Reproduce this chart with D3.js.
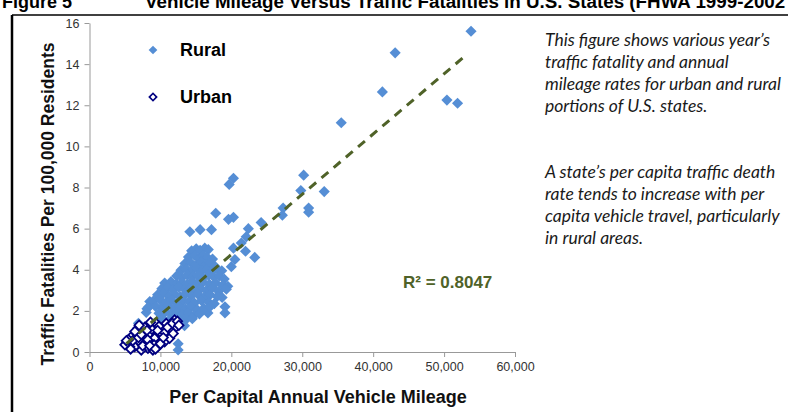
<!DOCTYPE html>
<html>
<head>
<meta charset="utf-8">
<script src="https://cdn.jsdelivr.net/npm/d3@7"></script>
<style>
  body { margin: 0; background: #fff; }
  svg { display: block; font-family: "Liberation Sans", Arial, sans-serif; }
  .note { font-family: Lato, "Open Sans", sans-serif; font-style: italic; font-size: 17.5px; fill: #1a1a1a; }
</style>
</head>
<body>
<svg id="chart" width="788" height="412"></svg>
<script>
// rural [miles per capita, deaths per 100k]
const ruralData = [
  [53800,15.6],[43100,14.55],[41300,12.65],[50400,12.25],[51900,12.1],[35500,11.15],
  [30200,8.6],[29800,7.85],[33100,7.8],[30900,7.0],[30900,6.8],[27300,7.0],[27200,6.65],
  [24200,6.3],[20300,8.45],[19700,8.15],[20300,6.55],[17800,6.75],[19600,6.45],
  [15600,5.95],[17200,5.95],[22400,6.0],[22100,5.6],[21400,5.3],[22000,4.9],[23300,4.6],
  [20300,5.05],[20500,4.5],[20000,4.15],[19100,2.2],[19100,1.9],[16700,1.9],
  [8500,2.45],[8100,2.1],[12500,0.4],[12500,0.1],[6900,1.4],[14150,5.85],
  [14400,4.92],[15050,5.02],[15600,4.95],[16250,5.05],[16750,4.98],
  [13950,4.62],[14800,4.70],[15400,4.55],[16050,4.68],[16600,4.60],[17350,4.52],
  [13450,4.30],[14250,4.35],[15000,4.22],[15700,4.38],[16350,4.25],[17000,4.32],[17650,4.18],
  [12900,3.98],[13600,4.05],[14350,3.92],[15100,4.08],[15850,3.95],[16500,4.02],[17250,3.90],[18100,4.00],[18650,3.95],
  [12300,3.70],[13050,3.62],[13800,3.75],[14550,3.68],[15300,3.72],[16000,3.60],[16750,3.74],[17500,3.66],[18300,3.70],[19000,3.55],
  [10600,3.35],[11500,3.42],[12250,3.30],[13000,3.38],[13700,3.28],[14450,3.45],[15200,3.33],[16000,3.40],[16900,3.30],[17800,3.36],[18800,3.25],[19500,3.20],
  [10200,3.08],[11000,3.12],[11800,3.02],[12600,3.15],[13400,3.05],[14100,3.10],[14900,2.98],[15700,3.08],[16500,3.00],[17300,3.12],[18200,2.95],[19300,3.05],
  [9600,2.78],[10400,2.85],[11200,2.72],[12000,2.82],[12800,2.70],[13600,2.85],[14400,2.75],[15300,2.80],[16200,2.68],[17000,2.78],[18000,2.70],[18700,2.65],
  [9000,2.48],[9900,2.55],[10800,2.42],[11600,2.52],[12400,2.40],[13200,2.50],[14000,2.45],[14800,2.38],[15800,2.50],[16800,2.42],[17600,2.35],
  [8300,2.18],[9300,2.22],[10200,2.15],[11000,2.25],[11900,2.12],[12700,2.20],[13500,2.10],[14300,2.18],[15200,2.05],[16100,2.12],[17000,2.20],
  [8000,1.92],[9800,1.88],[10700,1.95],[11500,1.85],[12300,1.92],[13000,1.80],[13900,1.88],[14700,1.78],[15500,1.85],
  [10300,1.62],[11200,1.55],[12100,1.65],[12800,1.52],[13600,1.58],[14500,1.62],
  [11000,1.30],[11700,1.25],[12600,1.35],[13400,1.28]
];

const urbanData = [
  [5300,0.45],[5900,0.74],[6600,0.91],[7070,0.50],[7530,1.07],[8000,0.74],[8480,1.31],[8700,0.50],
  [9400,1.39],[9400,0.91],[9890,0.58],[10350,1.15],[10820,1.39],[11060,0.83],[11520,1.07],[12000,1.56],
  [12230,1.23],[8240,0.18],[8940,0.10],[7300,0.10],[6370,0.26],[5660,0.26],[9650,0.26],[10590,0.50],
  [11300,0.67],[7780,0.42],[6830,1.15],[8480,0.91],[9180,0.67],[10110,0.91],
  [6100,0.55],[6900,0.70],[7300,0.85],[7800,1.20],[8200,0.60],[8800,1.10],[9100,0.35],[9800,1.25],
  [10000,0.40],[10600,0.95],[11000,1.20],[11700,1.40],[12400,1.50],[5500,0.60],[6400,1.00],[7000,1.30],
  [8600,1.45],[9600,1.05],[10400,0.70],[11800,0.90],[5800,0.15],[7500,0.30],[8500,0.30],[9300,0.15],
  [12600,1.30],[8100,1.05],[5000,0.35],[5200,0.55]
];

// linear fit shown in the figure
const trendRange = [5200, 53000];
const trendSlope = 0.000293;
const trendIntercept = -1.12;
const rSquared = "0.8047";

const xTicks = [0, 10000, 20000, 30000, 40000, 50000, 60000];
const yTicks = [0, 2, 4, 6, 8, 10, 12, 14, 16];

const noteLines1 = ["This figure shows various year\u2019s", "traffic fatality and annual",
  "mileage rates for urban and rural", "portions of U.S. states."];
const noteLines2 = ["A state\u2019s per capita traffic death", "rate tends to increase with per",
  "capita vehicle travel, particularly", "in rural areas."];

const svg = d3.select('#chart')

// page title, cut off at the top like the scan
svg.append('text').attr('x', 2).attr('y', 8)
  .style('font-weight', 'bold').style('font-size', '18px').text('Figure 5')
svg.append('text').attr('x', 145).attr('y', 8)
  .style('font-weight', 'bold').style('font-size', '18.8px')
  .text('Vehicle Mileage Versus Traffic Fatalities in U.S. States (FHWA 1999-2002')

// frame
svg.append('line').attr('x1', 12).attr('x2', 788).attr('y1', 15).attr('y2', 15)
  .attr('stroke', '#000').attr('stroke-width', 1.5)
svg.append('line').attr('x1', 12).attr('x2', 12).attr('y1', 15).attr('y2', 412)
  .attr('stroke', '#000').attr('stroke-width', 2.5)

const x = d3.scaleLinear().domain([0, 60000]).range([89.5, 515]);
const y = d3.scaleLinear().domain([0, 16]).range([352, 23]);

const xAxis = svg.append('g').attr('transform', 'translate(0,352)')
  .call(d3.axisBottom(x).tickValues(xTicks).tickFormat(d3.format(',')).tickSize(5).tickSizeOuter(0).tickPadding(5))
const yAxis = svg.append('g').attr('transform', 'translate(89.5,0)')
  .call(d3.axisLeft(y).tickValues(yTicks).tickSize(5).tickSizeOuter(0).tickPadding(5))

;[xAxis, yAxis].forEach(function (g) {
  g.select('.domain').attr('stroke', '#999')
  g.selectAll('.tick line').attr('stroke', '#999')
  g.selectAll('.tick text').attr('fill', '#333').style('font-size', '12.5px')
    .style('font-family', '"Liberation Sans", Arial, sans-serif')
})

svg.append('text').attr('x', 318).attr('y', 403).attr('text-anchor', 'middle')
  .style('font-weight', 'bold').style('font-size', '18px').attr('fill', '#111')
  .text('Per Capital Annual Vehicle Mileage')
svg.append('text').attr('transform', 'translate(54,204) rotate(-90)').attr('text-anchor', 'middle')
  .style('font-weight', 'bold').style('font-size', '17.5px').attr('fill', '#111')
  .text('Traffic Fatalities Per 100,000 Residents')

const diamond = d3.symbol().type(d3.symbolSquare)

svg.append('g').selectAll('path').data(ruralData).enter().append('path')
  .attr('d', diamond.size(62)())
  .attr('transform', function (d) { return 'translate(' + x(d[0]) + ',' + y(d[1]) + ') rotate(45)'; })
  .attr('fill', '#558ed5')

svg.append('g').selectAll('path').data(urbanData).enter().append('path')
  .attr('d', diamond.size(44)())
  .attr('transform', function (d) { return 'translate(' + x(d[0]) + ',' + y(d[1]) + ') rotate(45)'; })
  .attr('fill', '#fff').attr('stroke', '#000080').attr('stroke-width', 1.8)

svg.append('line')
  .attr('x1', x(trendRange[0])).attr('y1', y(trendSlope * trendRange[0] + trendIntercept))
  .attr('x2', x(trendRange[1])).attr('y2', y(trendSlope * trendRange[1] + trendIntercept))
  .attr('stroke', '#4f6228').attr('stroke-width', 3).attr('stroke-dasharray', '9,7')

svg.append('text').attr('x', 403).attr('y', 288)
  .style('font-weight', 'bold').style('font-size', '17px').attr('fill', '#4f6228')
  .text('R\u00b2 = ' + rSquared)

// legend
svg.append('path').attr('d', diamond.size(38)()).attr('transform', 'translate(153,50) rotate(45)')
  .attr('fill', '#558ed5')
svg.append('path').attr('d', diamond.size(26)()).attr('transform', 'translate(153,97) rotate(45)')
  .attr('fill', '#fff').attr('stroke', '#000080').attr('stroke-width', 1.7)
svg.append('text').attr('x', 180).attr('y', 56).style('font-weight', 'bold').style('font-size', '18px').text('Rural')
svg.append('text').attr('x', 180).attr('y', 103).style('font-weight', 'bold').style('font-size', '18px').text('Urban')

// side notes
svg.append('g').selectAll('text').data(noteLines1).enter().append('text').attr('class', 'note')
  .attr('x', 545).attr('y', function (d, i) { return 46 + i * 22; }).text(function (d) { return d; })
svg.append('g').selectAll('text').data(noteLines2).enter().append('text').attr('class', 'note')
  .attr('x', 545).attr('y', function (d, i) { return 178 + i * 22; }).text(function (d) { return d; })
</script>
</body>
</html>
